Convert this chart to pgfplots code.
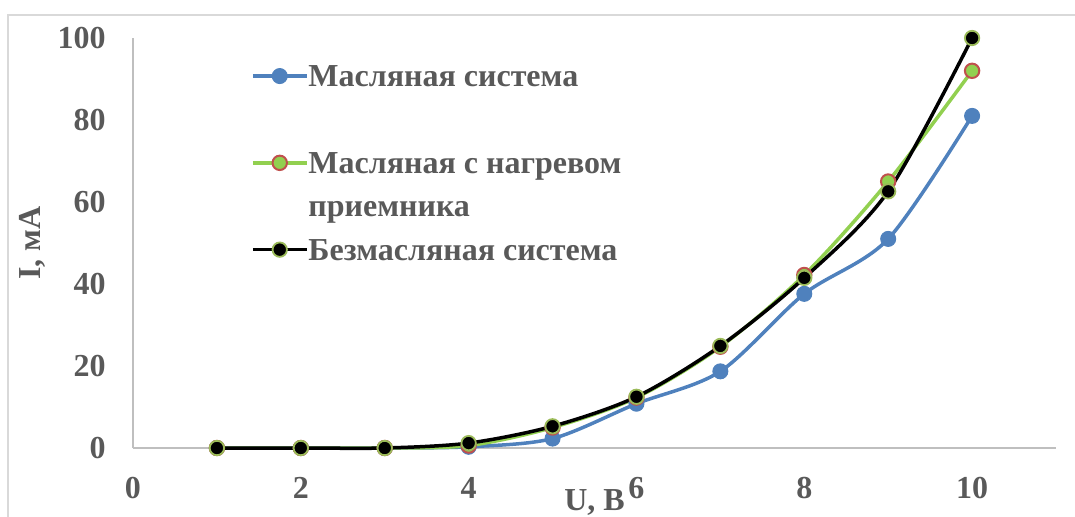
\documentclass[border=0pt]{standalone}
\usepackage{fontspec}
\setmainfont{Liberation Serif}
\usepackage{pgfplots}
\pgfplotsset{compat=1.18}

\definecolor{txtgray}{HTML}{595959}
\definecolor{axgray}{HTML}{BFBFBF}
\definecolor{framegray}{HTML}{D9D9D9}
\definecolor{oilblue}{HTML}{4F81BD}
\definecolor{heatgreen}{HTML}{92D050}
\definecolor{heatred}{HTML}{C0504D}
\definecolor{olive}{HTML}{9BBB59}

\begin{document}
\begin{tikzpicture}
% page area (1 px = 0.5 pt, origin at the axis corner)
\useasboundingbox (-66.5pt,-34pt) rectangle (471pt,224pt);
\draw[framegray, line width=0.9pt] (-62.5pt,-60pt) -- (-62.5pt,216.5pt) -- (500pt,216.5pt);
\begin{axis}[
  at={(0pt,0pt)}, anchor=south west,
  scale only axis, width=461.5pt, height=205pt,
  xmin=0, xmax=11, ymin=0, ymax=100,
  xtick={0,2,4,6,8,10}, ytick={0,20,40,60,80,100},
  axis x line*=bottom, axis y line*=left,
  axis line style={axgray, line width=0.9pt},
  major tick length=0pt,
  clip=false,
  /pgf/number format/assume math mode=true,
  tick label style={font=\fontsize{16}{19}\selectfont\bfseries, text=txtgray, inner sep=0pt},
  yticklabel style={anchor=east, xshift=-13.5pt},
  xticklabel style={anchor=north, yshift=-14.5pt},
  xlabel={U, В},
  xlabel style={at={(axis description cs:0.5,0)}, anchor=base, yshift=-31pt,
    font=\fontsize{16}{19}\selectfont\bfseries, text=txtgray, inner sep=0pt},
  ylabel={I, мА},
  ylabel style={at={(axis description cs:0,0.5)}, rotate=0, anchor=center, yshift=50.5pt,
    font=\fontsize{16}{19}\selectfont\bfseries, text=txtgray, inner sep=0pt},
  legend cell align=left,
  legend style={at={(axis cs:1.33,94.6)}, anchor=north west, draw=none, fill=none,
    font=\fontsize{16}{19}\selectfont\bfseries, text=txtgray,
    row sep=7.2pt,
    nodes={inner sep=0pt, text height=11pt, text depth=3.5pt},
    /tikz/every even column/.append style={column sep=4.5pt}},
  legend image code/.code={%
    \draw[mark repeat=2, mark phase=2, line width=1.75pt, #1, yshift=1.5pt]
      plot coordinates {(0pt,0pt) (13.5pt,0pt) (27pt,0pt)};},
]
\addplot[oilblue, line width=1.75pt, smooth, mark=*, mark size=3.75pt,
  mark options={fill=oilblue, draw=oilblue, line width=0.5pt}]
  coordinates {(1,0) (2,0) (3,0) (4,0.3) (5,2.3) (6,10.8) (7,18.7) (8,37.6) (9,51) (10,81)};
\addlegendentry{Масляная система}
\addlegendimage{empty legend}
\addlegendentry{\phantom{М}}
\addplot[heatgreen, line width=1.75pt, smooth, mark=*, mark size=3.6pt,
  mark options={fill=heatgreen, draw=heatred, line width=1pt}]
  coordinates {(1,0) (2,0) (3,0) (4,0.6) (5,5) (6,12.3) (7,24.7) (8,42.2) (9,65) (10,92)};
\addlegendentry{Масляная с нагревом}
\addlegendimage{empty legend}
\addlegendentry{приемника}
\addplot[black, line width=1.75pt, smooth, mark=*, mark size=3.6pt,
  mark options={fill=black, draw=olive, line width=0.9pt}]
  coordinates {(1,0) (2,0) (3,0) (4,1.2) (5,5.3) (6,12.5) (7,24.9) (8,41.5) (9,62.6) (10,100)};
\addlegendentry{Безмасляная система}
\end{axis}
\end{tikzpicture}
\end{document}
